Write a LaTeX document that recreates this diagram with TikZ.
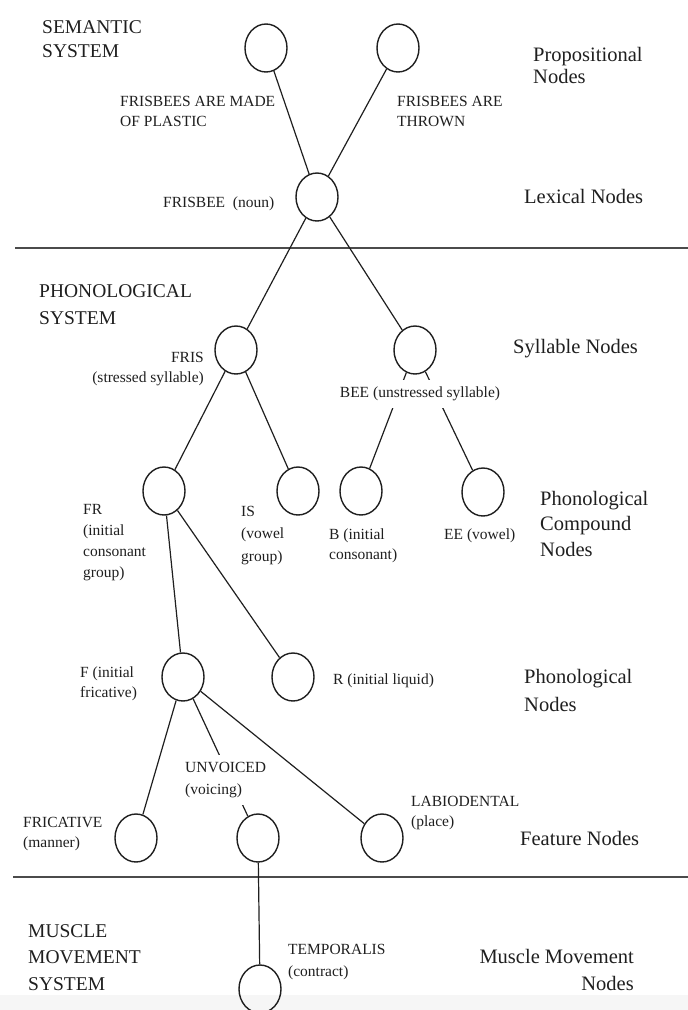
\documentclass[tikz,border=0pt]{standalone}
\usepackage{fontspec}
\setmainfont{Liberation Serif}
\usetikzlibrary{shapes.geometric}
\definecolor{ink}{gray}{0.12}
\tikzset{
  nd/.style={ellipse, draw=ink, line width=1.4pt, minimum width=42pt, minimum height=48pt, inner sep=0pt},
  edge/.style={draw=ink, line width=1.2pt},
  sep/.style={draw=ink!80, line width=1.3pt},
  lbl/.style={inner sep=0pt, align=left, text=ink, font=\fontsize{15.5}{#1}\selectfont},
  lbl/.default=20pt,
  sys/.style={inner sep=0pt, align=left, text=ink, font=\fontsize{19.5}{#1}\selectfont},
  sys/.default=26pt,
  lvl/.style={inner sep=0pt, align=left, text=ink, font=\fontsize{20.5}{#1}\selectfont},
  lvl/.default=26pt,
  cover/.style={fill=white, inner xsep=3pt, inner ysep=7pt}
}
\begin{document}
\begin{tikzpicture}[x=1pt, y=-1pt]
\useasboundingbox (0,0) rectangle (688,1010);
\fill[gray!7] (0,995) rectangle (688,1010);

% separators
\coordinate (s1l) at (15,248); \coordinate (s1r) at (688,248);
\coordinate (s2l) at (13,877); \coordinate (s2r) at (688,877);
\draw[sep] (s1l) -- (s1r);
\draw[sep] (s2l) -- (s2r);

% nodes
\node[nd] (P1) at (266,48) {};
\node[nd] (P2) at (398,48) {};
\node[nd] (FRISBEE) at (317,197) {};
\node[nd] (FRIS) at (236,350) {};
\node[nd] (BEE) at (415,350) {};
\node[nd] (FR) at (164,491) {};
\node[nd] (IS) at (298,491) {};
\node[nd] (B) at (361,491) {};
\node[nd] (EE) at (483,492) {};
\node[nd] (F) at (183,677) {};
\node[nd] (R) at (293,677) {};
\node[nd] (FRIC) at (136,838) {};
\node[nd] (U) at (258,838) {};
\node[nd] (LAB) at (382,838) {};
\node[nd] (T) at (260,989) {};

% connectors
\draw[edge] (P1) -- (FRISBEE);
\draw[edge] (P2) -- (FRISBEE);
\draw[edge] (FRISBEE) -- (FRIS);
\draw[edge] (FRISBEE) -- (BEE);
\draw[edge] (FRIS) -- (FR);
\draw[edge] (FRIS) -- (IS);
\draw[edge] (BEE) -- (B);
\draw[edge] (BEE) -- (EE);
\draw[edge] (FR) -- (F);
\draw[edge] (FR) -- (R);
\draw[edge] (F) -- (FRIC);
\draw[edge] (F) -- (U);
\draw[edge] (F) -- (LAB);
\draw[edge] (U) -- (T);

% system labels
\node[sys=24pt, anchor=west] (lsem) at (42,39) {SEMANTIC\\SYSTEM};
\node[sys=27pt, anchor=west] (lphon) at (39,304.5) {PHONOLOGICAL\\SYSTEM};
\node[sys=26.5pt, anchor=west] (lmus) at (28,957.5) {MUSCLE\\MOVEMENT\\SYSTEM};

% level labels
\node[lvl=22pt, anchor=west] (lprop) at (533,65) {Propositional\\Nodes};
\node[lvl, anchor=west] (llex) at (524,196) {Lexical Nodes};
\node[lvl, anchor=west] (lsyl) at (513,349) {Syllable Nodes};
\node[lvl=25.5pt, anchor=west] (lpc) at (540,523.5) {Phonological\\Compound\\Nodes};
\node[lvl=28pt, anchor=west] (lpn) at (524,690) {Phonological\\Nodes};
\node[lvl, anchor=west] (lfeat) at (520,838) {Feature Nodes};
\node[lvl=27pt, anchor=east, align=right] (lmm) at (634,969.5) {Muscle Movement\\Nodes};

% node labels
\node[lbl, anchor=west] (tplastic) at (120,111) {FRISBEES ARE MADE\\OF PLASTIC};
\node[lbl, anchor=west] (tthrown) at (397,111) {FRISBEES ARE\\THROWN};
\node[lbl, anchor=west] (tnoun) at (163,204) {FRISBEE\enspace(noun)};
\node[lbl, anchor=east, align=right] (tfris) at (204,369) {FRIS\\(stressed syllable)};
\node[lbl, cover] (tbee) at (420,394) {BEE (unstressed syllable)};
\node[lbl=21pt, anchor=west] (tfr) at (83,542.5) {FR\\(initial\\consonant\\group)};
\node[lbl=22.5pt, anchor=west] (tis) at (241,535.5) {IS\\(vowel\\group)};
\node[lbl, anchor=west] (tb) at (329,546) {B (initial\\consonant)};
\node[lbl, anchor=west] (tee) at (444,536) {EE (vowel)};
\node[lbl, anchor=west] (tf) at (80,684) {F (initial\\fricative)};
\node[lbl, anchor=west] (tr) at (333,681) {R (initial liquid)};
\node[lbl=22pt, cover, anchor=west] (tunv) at (182,780) {UNVOICED\\(voicing)};
\node[lbl, anchor=west] (tfric) at (23,834) {FRICATIVE\\(manner)};
\node[lbl, anchor=west] (tlab) at (411,813) {LABIODENTAL\\(place)};
\node[lbl=22pt, anchor=west] (ttemp) at (288,962) {TEMPORALIS\\(contract)};
\end{tikzpicture}
\end{document}
